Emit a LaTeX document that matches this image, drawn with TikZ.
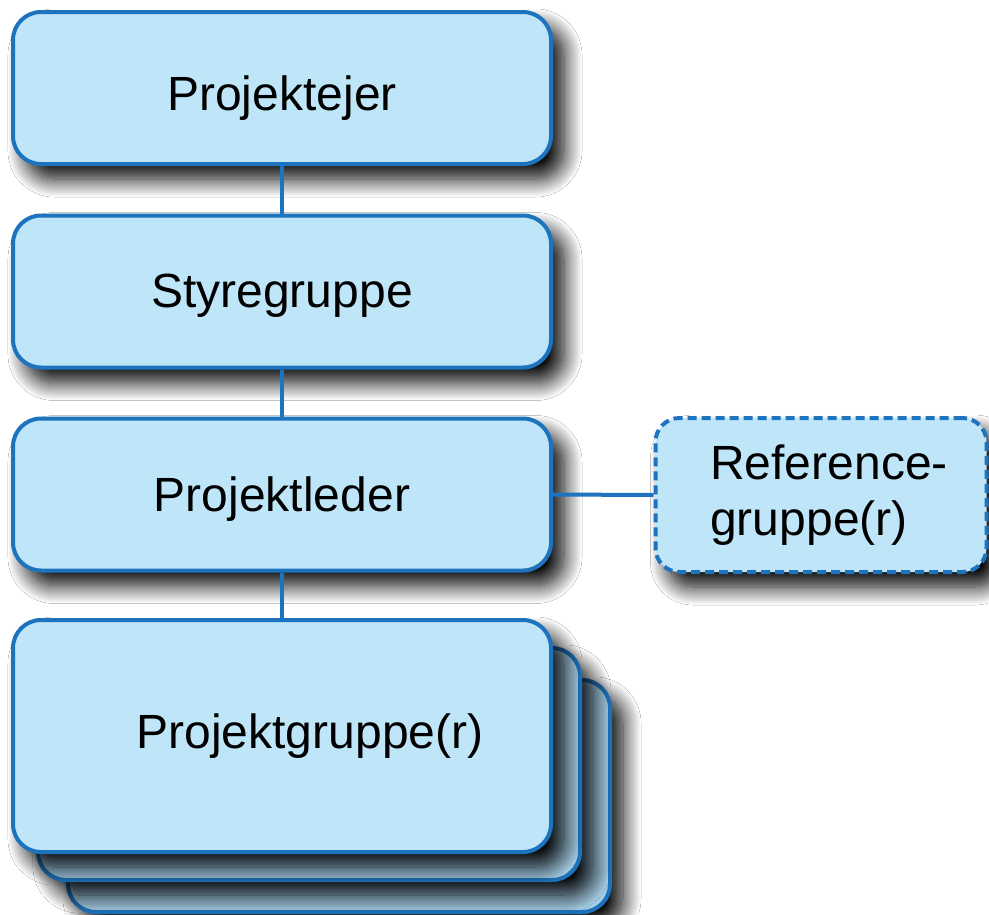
\documentclass[tikz,border=0pt]{standalone}
\usepackage{fontspec}
\setmainfont{Liberation Sans}
\usetikzlibrary{shadows.blur}
\definecolor{boxfill}{HTML}{BEE6F8}
\definecolor{stackfill}{HTML}{A6CFE6}
\definecolor{boxline}{HTML}{1E73BE}
\tikzset{
  orgbox/.style={draw=boxline, line width=4pt, fill=boxfill, rounded corners=28pt,
    inner sep=0pt, minimum width=538pt, minimum height=152pt,
    font=\fontsize{48pt}{56pt}\selectfont,
    blur shadow={shadow xshift=13pt, shadow yshift=-15pt, shadow blur radius=18pt,
      shadow blur steps=18, shadow opacity=100}},
  stackbox/.style={orgbox, fill=stackfill, minimum width=542pt, minimum height=232pt},
  link/.style={draw=boxline, line width=4pt}
}
\begin{document}
\begin{tikzpicture}[x=1pt,y=1pt]
\useasboundingbox (0,0) rectangle (989,-914);
\fill[white] (0,0) rectangle (989,-914);
\node[orgbox, text height=44pt, text depth=0pt] (pe) at (282,-88) {Projektejer};
\node[orgbox, text height=35pt, text depth=3pt] (sg) at (282,-291.5) {Styregruppe};
\node[orgbox, text height=35pt, text depth=1pt] (pl) at (282,-494.5) {Projektleder};
\node[orgbox, dashed, dash pattern=on 9pt off 5pt, minimum width=331pt, minimum height=154pt, rounded corners=24pt,
  align=left] (ref) at (821,-495) {\hspace*{16pt}Reference-\\\hspace*{16pt}gruppe(r)};
\node[stackbox] (s3) at (339,-796) {};
\node[stackbox] (s2) at (309,-764) {};
\node[orgbox, minimum height=232pt] (pg) at (282,-736) {};
\node[font=\fontsize{48pt}{56pt}\selectfont] (pgt) at (310,-736) {Projektgruppe(r)};
\draw[link] (pe.south) -- (sg.north);
\draw[link] (sg.south) -- (pl.north);
\draw[link] (pl.south) -- (pg.north);
\draw[link] (pl.east) -- (ref.west);
\end{tikzpicture}
\end{document}
